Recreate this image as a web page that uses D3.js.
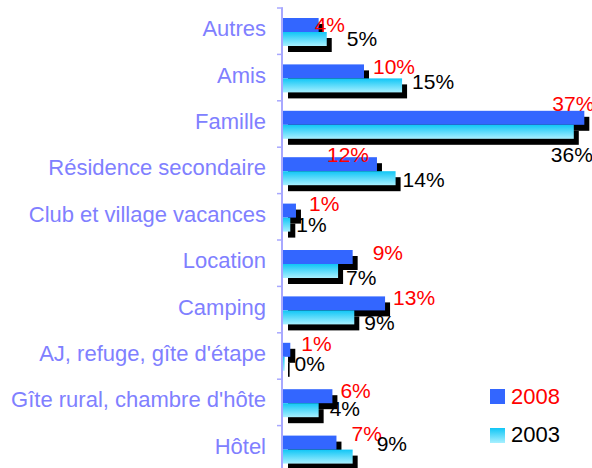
<!DOCTYPE html>
<html>
<head>
<meta charset="utf-8">
<script src="https://cdn.jsdelivr.net/npm/d3@7"></script>
<style>
  body { margin: 0; background: #fff; }
  text { font-family: "Liberation Sans", Arial, sans-serif; }
</style>
</head>
<body>
<div id="root"></div>
<script>
// categories top to bottom
var categories = ["Autres", "Amis", "Famille", "Résidence secondaire", "Club et village vacances",
  "Location", "Camping", "AJ, refuge, gîte d'étape", "Gîte rural, chambre d'hôte", "Hôtel"];
// bar lengths (%)
var values2008 = [4.4, 10.0, 37.2, 11.6, 1.6, 8.6, 12.6, 0.9, 6.1, 6.6];
var values2003 = [5.4, 14.7, 35.9, 13.9, 0.9, 6.8, 8.8, 0.2, 4.4, 8.6];
// printed labels
var labels2008 = ["4%", "10%", "37%", "12%", "1%", "9%", "13%", "1%", "6%", "7%"];
var labels2003 = ["5%", "15%", "36%", "14%", "1%", "7%", "9%", "0%", "4%", "9%"];
var years = ["2008", "2003"];

var width = 592, height = 468;

var svg = d3.select("#root")
    .append("svg")
    .attr("width", width)
    .attr("height", height);

var defs = svg.append("defs");
var grad = defs.append("linearGradient")
    .attr("id", "g2003")
    .attr("x1", 0).attr("y1", 0).attr("x2", 0).attr("y2", 1);
grad.append("stop").attr("offset", "0%").attr("stop-color", "#10c6f6");
grad.append("stop").attr("offset", "100%").attr("stop-color", "#a8f0ff");

var x = d3.scaleLinear().domain([0, 40]).range([283, 283 + 8.1 * 40]);
var y = d3.scaleBand().domain(categories).range([7.5, 471.5]).paddingInner(0);
var sub = d3.scaleBand().domain(years).range([10.5, 38.5]).paddingInner(0);

// label nudges (dx, dy) so labels sit like in the original
var nudge2008 = [[-14, 5.5], [-1, 1], [-42, -8], [-60, -3.5], [3, -1], [10, 1], [-2, 0], [1, 0], [-2, 0], [5, -3]];
var nudge2003 = [[12, -1.5], [2, -5], [-31, 22], [-1, 0], [-2, -1], [0, 5], [2, 4.5], [2, -1], [3, -3], [16, -14]];

var rows = categories.map(function (c, i) {
  return { cat: c, v8: values2008[i], v3: values2003[i], l8: labels2008[i], l3: labels2003[i], i: i };
});

// shadows
var sh = svg.append("g");
rows.forEach(function (d) {
  sh.append("rect")
    .attr("x", x(0) + 5).attr("y", y(d.cat) + sub("2008") + 6)
    .attr("width", x(d.v8) - x(0)).attr("height", sub.bandwidth())
    .attr("fill", "#000");
  sh.append("rect")
    .attr("x", x(0) + 5).attr("y", y(d.cat) + sub("2003") + 6)
    .attr("width", x(d.v3) - x(0)).attr("height", sub.bandwidth())
    .attr("fill", "#000");
});

// bars
svg.append("g").selectAll("rect")
    .data(rows)
    .join("rect")
    .attr("x", x(0))
    .attr("y", function (d) { return y(d.cat) + sub("2008"); })
    .attr("width", function (d) { return x(d.v8) - x(0); })
    .attr("height", sub.bandwidth())
    .attr("fill", "#3366ff");

svg.append("g").selectAll("rect")
    .data(rows)
    .join("rect")
    .attr("x", x(0))
    .attr("y", function (d) { return y(d.cat) + sub("2003"); })
    .attr("width", function (d) { return x(d.v3) - x(0); })
    .attr("height", sub.bandwidth())
    .attr("fill", "url(#g2003)");

// y axis: band edges as ticks
var yEdge = d3.scaleLinear().domain([0, categories.length]).range(y.range());
var ax = svg.append("g")
    .attr("transform", "translate(283,0)")
    .call(d3.axisLeft(yEdge).ticks(10).tickSize(6).tickFormat("").tickSizeOuter(0));
ax.select(".domain").remove();
ax.selectAll("line").attr("stroke", "#a8a8ff").attr("stroke-width", 1.5);
svg.append("line")
    .attr("x1", 282).attr("x2", 282)
    .attr("y1", y.range()[0]).attr("y2", height)
    .attr("stroke", "#a8a8ff").attr("stroke-width", 2);

// category labels
svg.append("g").selectAll("text")
    .data(categories)
    .join("text")
    .attr("x", 266)
    .attr("y", function (d) { return y(d) + y.bandwidth() / 2 + 5.5; })
    .attr("text-anchor", "end")
    .attr("font-size", 22)
    .attr("fill", "#8080ff")
    .text(function (d) { return d; });

// value labels
svg.append("g").selectAll("text")
    .data(rows)
    .join("text")
    .attr("x", function (d) { return x(d.v8) + 10 + nudge2008[d.i][0]; })
    .attr("y", function (d) { return y(d.cat) + 19 + nudge2008[d.i][1]; })
    .attr("font-size", 21)
    .attr("fill", "#ff0000")
    .text(function (d) { return d.l8; });

svg.append("g").selectAll("text")
    .data(rows)
    .join("text")
    .attr("x", function (d) { return x(d.v3) + 8 + nudge2003[d.i][0]; })
    .attr("y", function (d) { return y(d.cat) + 40 + nudge2003[d.i][1]; })
    .attr("font-size", 21)
    .attr("fill", "#000")
    .text(function (d) { return d.l3; });

// legend
var legend = svg.append("g").attr("transform", "translate(490,389)");
legend.append("rect").attr("width", 15).attr("height", 15).attr("fill", "#3366ff");
legend.append("text").attr("x", 21).attr("y", 15).attr("font-size", 22).attr("fill", "#ff0000").text("2008");
legend.append("rect").attr("y", 39).attr("width", 15).attr("height", 15).attr("fill", "url(#g2003)");
legend.append("text").attr("x", 21).attr("y", 53).attr("font-size", 22).attr("fill", "#000").text("2003");
</script>
</body>
</html>
